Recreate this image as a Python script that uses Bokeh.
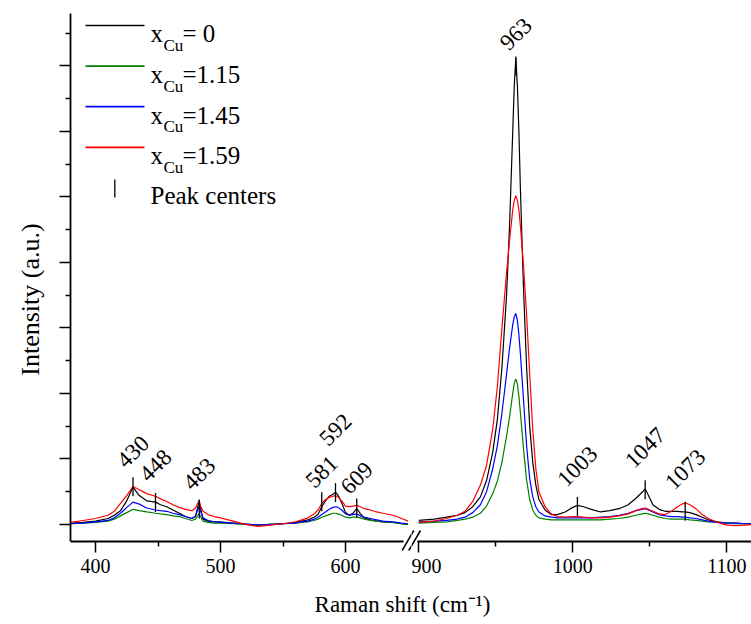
import math
from bokeh.plotting import figure
from bokeh.layouts import row, column
from bokeh.models import Range1d, FixedTicker, Label, Arrow, CustomLabelingPolicy
from bokeh.core.properties import value
from bokeh.embed import file_html
from bokeh.resources import INLINE

# ---------------- data ----------------
LEFT_X = [380, 390, 400, 410, 415, 420, 425, 430, 435, 441, 448, 452, 457, 462, 467, 472, 477,
          480, 482, 483, 484, 486, 490, 495, 500, 510, 520, 530, 540, 550, 560, 565, 570, 575,
          578, 581, 584, 587, 590, 592, 594, 597, 600, 603, 606, 609, 612, 615, 620, 625, 630,
          638, 645, 650]
BLACK_L = [0.02, 0.03, 0.05, 0.09, 0.14, 0.21, 0.36, 0.57, 0.44, 0.36, 0.34, 0.30, 0.27, 0.22,
           0.17, 0.12, 0.09, 0.12, 0.28, 0.37, 0.25, 0.08, 0.05, 0.04, 0.04, 0.02, 0.00, -0.01,
           0.00, 0.01, 0.03, 0.05, 0.07, 0.11, 0.15, 0.27, 0.36, 0.43, 0.46, 0.49, 0.45, 0.33,
           0.18, 0.14, 0.17, 0.24, 0.16, 0.10, 0.07, 0.05, 0.04, 0.03, 0.01, 0.00]
GREEN_L = [0.01, 0.02, 0.03, 0.05, 0.08, 0.13, 0.18, 0.23, 0.21, 0.19, 0.17, 0.16, 0.15, 0.13,
           0.12, 0.09, 0.06, 0.08, 0.14, 0.16, 0.12, 0.05, 0.03, 0.02, 0.02, 0.01, 0.00, -0.01,
           0.00, 0.01, 0.02, 0.03, 0.04, 0.06, 0.08, 0.11, 0.13, 0.15, 0.17, 0.17, 0.16, 0.14,
           0.11, 0.10, 0.11, 0.11, 0.10, 0.08, 0.06, 0.05, 0.04, 0.03, 0.01, 0.00]
BLUE_L = [0.01, 0.02, 0.04, 0.06, 0.10, 0.17, 0.26, 0.34, 0.31, 0.25, 0.22, 0.21, 0.20, 0.17,
          0.15, 0.12, 0.09, 0.13, 0.24, 0.27, 0.20, 0.10, 0.06, 0.04, 0.03, 0.02, 0.01, -0.01,
          0.00, 0.01, 0.02, 0.04, 0.05, 0.08, 0.11, 0.15, 0.19, 0.23, 0.26, 0.27, 0.26, 0.22,
          0.16, 0.14, 0.15, 0.16, 0.13, 0.11, 0.09, 0.07, 0.05, 0.04, 0.02, 0.01]
RED_L = [0.03, 0.06, 0.09, 0.14, 0.20, 0.32, 0.44, 0.58, 0.53, 0.47, 0.43, 0.39, 0.35, 0.30,
         0.26, 0.23, 0.21, 0.25, 0.33, 0.34, 0.28, 0.20, 0.15, 0.12, 0.10, 0.05, 0.00, -0.03,
         -0.01, 0.01, 0.04, 0.07, 0.10, 0.16, 0.22, 0.32, 0.38, 0.41, 0.43, 0.44, 0.42, 0.36,
         0.28, 0.27, 0.28, 0.29, 0.27, 0.24, 0.22, 0.19, 0.17, 0.14, 0.09, 0.05]

RIGHT_X = [900, 910, 918, 925, 930, 935, 940, 944, 948, 951, 954, 957, 959, 961, 962, 963, 964,
           965, 966, 968, 970, 972, 974, 976, 978, 982, 986, 990, 995, 1000, 1003, 1007, 1012,
           1018, 1024, 1030, 1036, 1041, 1045, 1047, 1049, 1052, 1056, 1060, 1064, 1068, 1071,
           1073, 1076, 1080, 1084, 1088, 1094, 1100, 1106, 1112, 1117]
BLACK_R = [0.06, 0.08, 0.11, 0.14, 0.18, 0.27, 0.42, 0.67, 1.10, 1.60, 2.40, 3.50, 4.60, 6.00,
           6.70, 7.12, 6.70, 6.00, 5.10, 3.60, 2.40, 1.50, 0.95, 0.60, 0.38, 0.22, 0.15, 0.15,
           0.19, 0.26, 0.29, 0.27, 0.23, 0.19, 0.21, 0.24, 0.30, 0.40, 0.49, 0.54, 0.45, 0.30,
           0.23, 0.20, 0.20, 0.20, 0.19, 0.19, 0.18, 0.15, 0.11, 0.07, 0.04, 0.02, 0.02, 0.01, 0.01]
GREEN_R = [0.02, 0.03, 0.04, 0.06, 0.08, 0.11, 0.17, 0.28, 0.47, 0.66, 0.95, 1.35, 1.65, 2.00,
           2.15, 2.22, 2.15, 1.95, 1.70, 1.15, 0.68, 0.38, 0.22, 0.14, 0.10, 0.08, 0.07, 0.07,
           0.07, 0.07, 0.07, 0.07, 0.07, 0.07, 0.08, 0.09, 0.11, 0.14, 0.16, 0.17, 0.16, 0.14,
           0.11, 0.09, 0.08, 0.08, 0.08, 0.08, 0.07, 0.06, 0.05, 0.04, 0.03, 0.02, 0.01, 0.01, 0.01]
BLUE_R = [0.04, 0.05, 0.06, 0.08, 0.11, 0.18, 0.30, 0.50, 0.85, 1.20, 1.70, 2.30, 2.70, 3.05,
          3.17, 3.22, 3.12, 2.90, 2.60, 1.90, 1.20, 0.70, 0.42, 0.27, 0.19, 0.13, 0.11, 0.10,
          0.10, 0.10, 0.10, 0.10, 0.10, 0.11, 0.12, 0.14, 0.17, 0.21, 0.23, 0.24, 0.22, 0.19,
          0.15, 0.13, 0.12, 0.12, 0.11, 0.11, 0.10, 0.09, 0.07, 0.05, 0.03, 0.02, 0.02, 0.01, 0.01]
RED_R = [0.03, 0.05, 0.09, 0.14, 0.20, 0.35, 0.60, 0.90, 1.45, 2.10, 3.00, 3.85, 4.35, 4.80,
         4.95, 5.02, 4.95, 4.80, 4.55, 3.95, 3.20, 2.30, 1.45, 0.85, 0.50, 0.27, 0.16, 0.12,
         0.11, 0.12, 0.12, 0.11, 0.10, 0.10, 0.11, 0.13, 0.16, 0.21, 0.24, 0.25, 0.23, 0.20,
         0.16, 0.15, 0.20, 0.27, 0.31, 0.33, 0.30, 0.24, 0.15, 0.09, 0.03, -0.01, -0.02, -0.01, 0.00]

PEAK_X_L = [430, 448, 483, 581, 592, 609]
PEAK_Y_L = [0.575, 0.335, 0.235, 0.345, 0.485, 0.25]
PEAK_X_R = [963, 1003, 1047, 1073]
PEAK_Y_R = [7.0, 0.275, 0.53, 0.2]

LEGEND_VALUES = ["= 0", "=1.15", "=1.45", "=1.59"]
COLORS = ["#000000", "#008000", "#0000ff", "#ff0000"]

X_TICKS_L = [400, 500, 600]
X_MINOR_L = [450, 550]
X_TICKS_R = [900, 1000, 1100]
X_MINOR_R = [950, 1050]
Y_TICKS = [0, 1, 2, 3, 4, 5, 6, 7]
Y_MINOR = [0.5, 1.5, 2.5, 3.5, 4.5, 5.5, 6.5, 7.5]

# ---------------- layout / style constants ----------------
FONT = "'Liberation Serif', serif"

PX_PER_Y = 65.5
Y_AXIS_AT = -0.26          # bottom axis line position (data)
Y_TOP = 7.80
FIG_H = 585
FRAME_TOP, FRAME_BOTTOM = 13, 585
YR = (Y_TOP - (FRAME_BOTTOM - FRAME_TOP) / PX_PER_Y, Y_TOP)

PX_PER_XL, PX_PER_XR = 1.25, 1.54
L_FRAME = (70, 411)
R_FRAME = (411, 751)
XL = (380, 380 + (L_FRAME[1] - L_FRAME[0]) / PX_PER_XL)
XR_START = 900 - (418.3 - R_FRAME[0]) / PX_PER_XR
XR = (XR_START, XR_START + (R_FRAME[1] - R_FRAME[0]) / PX_PER_XR)
LABEL_RISE_L = [35, 37, 35, 30, 63, 30]
LABEL_RISE_R = [32, 40, 42, 42]


def lx(px):
    return XL[0] + (px - L_FRAME[0]) / PX_PER_XL


def rx(px):
    return XR[0] + (px - R_FRAME[0]) / PX_PER_XR


def yy(py):
    return Y_TOP - (py - FRAME_TOP) / PX_PER_Y


y_range = Range1d(*YR)


def base_fig(**kw):
    p = figure(output_backend="svg", toolbar_location=None, y_range=y_range, height=FIG_H,
               min_border_top=FRAME_TOP, min_border_bottom=FIG_H - FRAME_BOTTOM, **kw)
    p.outline_line_color = None
    p.grid.visible = False
    p.background_fill_color = "white"
    p.border_fill_color = "white"
    return p


def style_axis(ax, ticks, minor):
    ax.ticker = FixedTicker(ticks=ticks, minor_ticks=minor)
    ax.major_tick_out = 11
    ax.major_tick_in = 0
    ax.minor_tick_out = 5
    ax.minor_tick_in = 0
    ax.axis_line_width = 1.8
    ax.major_tick_line_width = 1.5
    ax.minor_tick_line_width = 1.5
    ax.axis_line_color = "black"
    ax.major_tick_line_color = "black"
    ax.minor_tick_line_color = "black"
    ax.major_label_text_font = FONT
    ax.major_label_text_font_size = "20px"
    ax.major_label_text_color = "black"
    ax.major_label_standoff = 7


p1 = base_fig(width=L_FRAME[1], x_range=Range1d(*XL),
              min_border_left=L_FRAME[0], min_border_right=0)
p2 = base_fig(width=R_FRAME[1] - R_FRAME[0], x_range=Range1d(*XR),
              min_border_left=0, min_border_right=0, y_axis_location=None)

style_axis(p1.xaxis[0], X_TICKS_L, X_MINOR_L)
style_axis(p2.xaxis[0], X_TICKS_R, X_MINOR_R)
p1.xaxis[0].fixed_location = Y_AXIS_AT
p2.xaxis[0].fixed_location = Y_AXIS_AT
p1.xaxis[0].bounds = (XL[0], 646.4)
p2.xaxis[0].bounds = (899.2, XR[1])

ya = p1.yaxis[0]
style_axis(ya, Y_TICKS, Y_MINOR)
ya.bounds = (Y_AXIS_AT, Y_TOP)
ya.major_label_policy = CustomLabelingPolicy(code="return []")
ya.major_label_standoff = 0
ya.axis_label = "Intensity (a.u.)"
ya.axis_label_text_font = FONT
ya.axis_label_text_font_size = "26px"
ya.axis_label_text_font_style = "normal"
ya.axis_label_text_color = "black"
ya.axis_label_standoff = 2

# spectra
for ys_l, ys_r, c in zip([BLACK_L, GREEN_L, BLUE_L, RED_L], [BLACK_R, GREEN_R, BLUE_R, RED_R], COLORS):
    p1.line(LEFT_X, ys_l, line_color=c, line_width=1.2)
    p2.line(RIGHT_X, ys_r, line_color=c, line_width=1.2)

# peak centers and labels
for p, px_, py_, rise in [(p1, PEAK_X_L, PEAK_Y_L, LABEL_RISE_L), (p2, PEAK_X_R, PEAK_Y_R, LABEL_RISE_R)]:
    p.scatter(px_, py_, marker="dash", angle=math.pi / 2, size=19,
              line_color="black", line_width=1.3)
    p.text(px_, [v + r / PX_PER_Y for v, r in zip(py_, rise)], text=[str(v) for v in px_],
           angle=math.pi / 4, text_font=value(FONT), text_font_size="23px",
           text_align="center", text_baseline="middle", text_color="black")

# legend (drawn manually to allow the subscript)
for i, (c, val) in enumerate(zip(COLORS, LEGEND_VALUES)):
    ly = 25 + 40.6 * i
    p1.line([lx(85), lx(144)], [yy(ly), yy(ly)], line_color=c, line_width=1.7)
    p1.add_layout(Label(x=lx(150), y=yy(ly + 8.3), text="x", text_font=FONT,
                        text_font_size="25px", text_baseline="alphabetic", text_color="black"))
    p1.add_layout(Label(x=lx(163), y=yy(ly + 20), text="Cu", text_font=FONT,
                        text_font_size="17px", text_baseline="alphabetic", text_color="black"))
    p1.add_layout(Label(x=lx(182), y=yy(ly + 8.3), text=val, text_font=FONT,
                        text_font_size="25px", text_baseline="alphabetic", text_color="black"))
p1.scatter([lx(114.3)], [yy(188)], marker="dash", angle=math.pi / 2, size=18,
           line_color="black", line_width=1.3)
p1.add_layout(Label(x=lx(150), y=yy(195), text="Peak centers", text_font=FONT,
                    text_font_size="25px", text_baseline="alphabetic", text_color="black"))

# axis-break marks (each panel draws the part inside its own frame)
for (x0, y0, x1, y1) in [(401.7, 550, 413.3, 530), (408.3, 550, 420, 530)]:
    p1.add_layout(Arrow(end=None, x_start=lx(x0), y_start=yy(y0), x_end=lx(x1), y_end=yy(y1),
                        line_color="black", line_width=1.5))
    p2.add_layout(Arrow(end=None, x_start=rx(x0), y_start=yy(y0), x_end=rx(x1), y_end=yy(y1),
                        line_color="black", line_width=1.5))

# shared x-axis title
p3 = figure(width=751, height=624 - FIG_H, x_range=Range1d(0, 751), y_range=Range1d(0, 624 - FIG_H),
            x_axis_location=None, y_axis_location=None, output_backend="svg",
            toolbar_location=None, min_border=0)
p3.outline_line_color = None
p3.grid.visible = False
p3.add_layout(Label(x=402, y=20, text="Raman shift (cm\u207b\u00b9)", text_font=FONT,
                    text_font_size="23px", text_align="center", text_baseline="middle",
                    text_color="black"))

layout = column(row(p1, p2), p3)
open("out.html", "w").write(file_html(layout, INLINE))
